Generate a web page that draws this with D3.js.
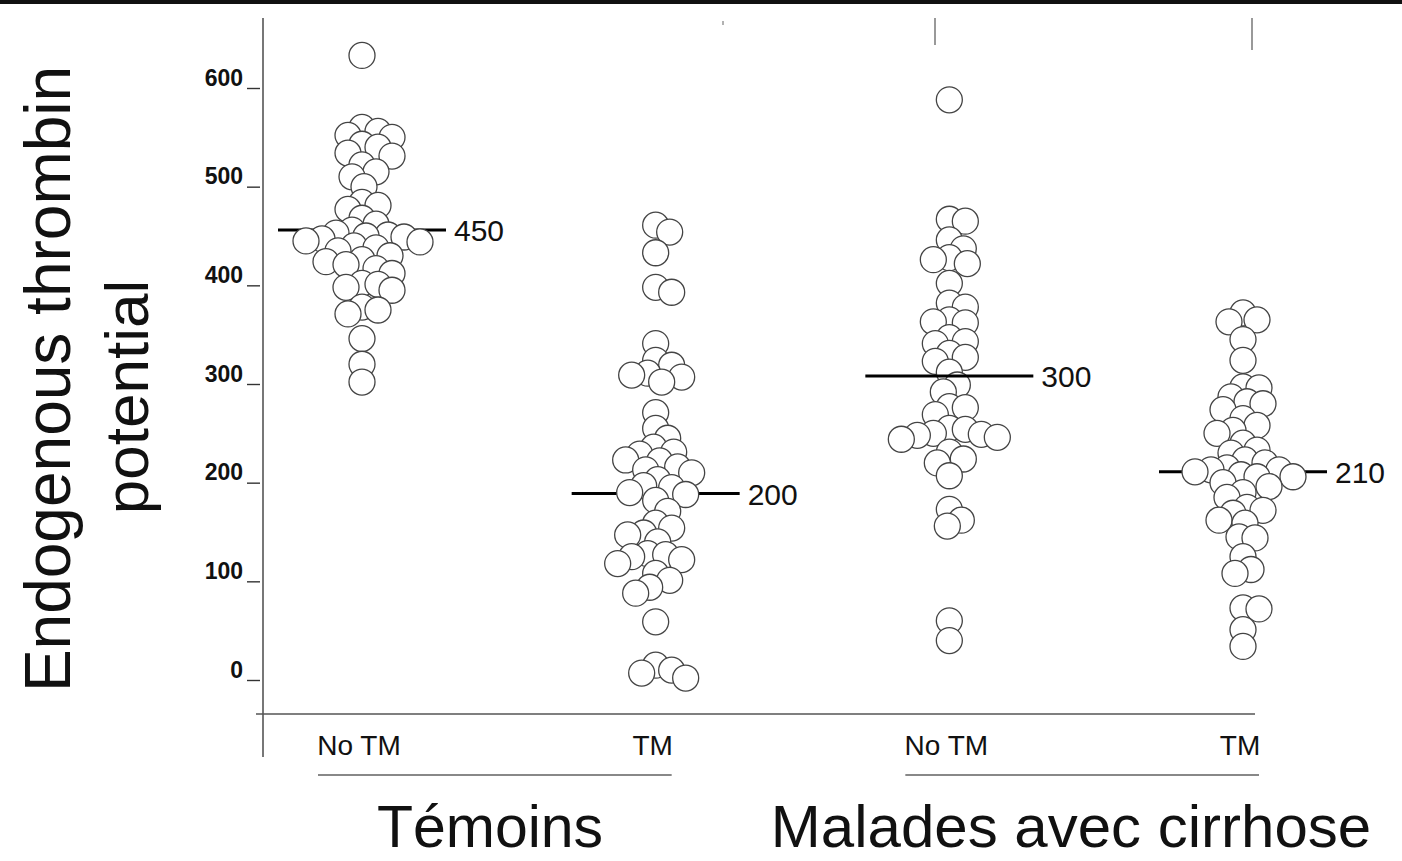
<!DOCTYPE html>
<html>
<head>
<meta charset="utf-8">
<script src="https://cdn.jsdelivr.net/npm/d3@7"></script>
<style>
  html, body { margin: 0; padding: 0; background: #fff; }
  svg { display: block; }
  text { font-family: "Liberation Sans", Arial, sans-serif; fill: #111; }
</style>
</head>
<body>
<div id="chart"></div>
<script>
// ---------------- DATA ----------------
const columnIds = ["temoins-notm", "temoins-tm", "cirrhose-notm", "cirrhose-tm"];
const columnLabels = ["No TM", "TM", "No TM", "TM"];
const groupLabels = ["Témoins", "Malades avec cirrhose"];
const yTicks = [0, 100, 200, 300, 400, 500, 600];

const temoinsNoTM = [633, 560, 556, 552, 550, 543, 540, 534, 531, 522, 515, 510, 500, 484, 481, 477, 468, 462, 456, 453, 451, 450, 449, 447, 445, 444, 440, 438, 435, 430, 426, 424, 421, 417, 412, 402, 401, 398, 395, 378, 375, 371, 346, 320, 302];
const temoinsTM = [461, 454, 433, 398, 393, 341, 324, 319, 311, 309, 307, 302, 271, 255, 245, 236, 231, 229, 223, 222, 216, 213, 210, 203, 197, 195, 190, 188, 182, 171, 159, 154, 149, 147, 140, 128, 127, 125, 122, 118, 108, 101, 94, 88, 59, 15, 10, 7, 2];
const cirrhoseNoTM = [588, 467, 465, 446, 437, 428, 426, 422, 402, 382, 378, 365, 363, 362, 347, 343, 341, 331, 327, 323, 312, 299, 292, 277, 276, 269, 255, 254, 250, 249, 248, 246, 244, 231, 224, 220, 207, 173, 162, 156, 60, 40];
const cirrhoseTM = [372, 365, 363, 345, 324, 297, 296, 287, 282, 280, 274, 265, 258, 253, 250, 240, 233, 230, 223, 220, 215, 213, 213, 211, 208, 206, 206, 200, 196, 190, 185, 175, 172, 169, 162, 159, 145, 144, 125, 112, 108, 73, 72, 51, 34];

// central line values (as drawn) and their printed labels
const centralValues = [456, 189, 308, 211];
const centralLabels = ["450", "200", "300", "210"];

// ---------------- LAYOUT ----------------
const W = 1402, H = 861;
const R = 13;            // circle radius
const MIN_DIST = 15;     // allowed centre distance in the swarm (circles overlap)
const LINE_HALF = 84;

const svg = d3.select("#chart").append("svg").attr("width", W).attr("height", H);

const x = d3.scalePoint().domain(columnIds).range([362, 1243]);
const y = d3.scaleLinear().domain([0, 600]).range([680, 88]);

const series = [temoinsNoTM, temoinsTM, cirrhoseNoTM, cirrhoseTM];

// top border & small top marks
svg.append("rect").attr("x", 0).attr("y", 0).attr("width", W).attr("height", 4).attr("fill", "#111");
svg.append("line").attr("x1", 935).attr("x2", 935).attr("y1", 18).attr("y2", 45).attr("stroke", "#777").attr("stroke-width", 1.5);
svg.append("line").attr("x1", 1252).attr("x2", 1252).attr("y1", 18).attr("y2", 50).attr("stroke", "#777").attr("stroke-width", 1.5);
svg.append("line").attr("x1", 723).attr("x2", 723).attr("y1", 21).attr("y2", 25).attr("stroke", "#999").attr("stroke-width", 1.5);

// y axis line
const axisX = 263;
svg.append("line").attr("x1", axisX).attr("x2", axisX).attr("y1", 18).attr("y2", 757)
  .attr("stroke", "#555").attr("stroke-width", 1.6);
// x axis line
svg.append("line").attr("x1", 256).attr("x2", 1255).attr("y1", 714).attr("y2", 714)
  .attr("stroke", "#555").attr("stroke-width", 1.6);

// y ticks via d3 axis
const yAxis = d3.axisLeft(y).tickValues(yTicks).tickSize(0).tickPadding(0);
const gy = svg.append("g").attr("transform", `translate(${axisX},0)`).call(yAxis);
gy.select(".domain").remove();
gy.selectAll(".tick").each(function() {
  const t = d3.select(this);
  t.append("line").attr("x1", -16).attr("x2", -3).attr("y1", 0).attr("y2", 0)
    .attr("stroke", "#333").attr("stroke-width", 1.4);
  t.select("text")
    .attr("x", -20).attr("y", -3).attr("dy", 0)
    .attr("text-anchor", "end")
    .style("font-family", '"Liberation Sans", Arial, sans-serif')
    .style("font-size", "23px").style("font-weight", "bold").attr("fill", "#222");
});

// beeswarm with overlap
function swarm(vals) {
  const placed = [];
  const sorted = vals.slice().sort((a, b) => b - a);
  const step = 2;
  for (const v of sorted) {
    const yy = y(v);
    let off = 0;
    for (let k = 0; k < 400; k++) {
      const cand = (k % 2 ? 1 : -1) * Math.ceil(k / 2) * step;
      if (placed.every(p => (p.dx - cand) ** 2 + (p.y - yy) ** 2 >= MIN_DIST * MIN_DIST)) { off = cand; break; }
    }
    placed.push({ v, dx: off, y: yy });
  }
  return placed;
}

const lineOnTop = [false, false, true, false];

series.forEach((vals, i) => {
  const cx = x(columnIds[i]);
  const g = svg.append("g");
  const drawLine = (sel) => sel.append("line")
    .attr("x1", cx - LINE_HALF).attr("x2", cx + LINE_HALF)
    .attr("y1", y(centralValues[i])).attr("y2", y(centralValues[i]))
    .attr("stroke", "#000").attr("stroke-width", 3);
  if (!lineOnTop[i]) drawLine(g);
  const pts = swarm(vals);
  g.selectAll("circle").data(pts).enter().append("circle")
    .attr("cx", d => cx + d.dx).attr("cy", d => d.y).attr("r", R)
    .attr("fill", "#fff").attr("stroke", "#444").attr("stroke-width", 1.3);
  if (lineOnTop[i]) drawLine(g);
  g.append("text")
    .attr("x", cx + LINE_HALF + 8).attr("y", y(centralValues[i]) + 11)
    .style("font-size", "30px").attr("fill", "#111")
    .text(centralLabels[i]);
});

// column labels
svg.selectAll(".collabel").data(columnIds).enter().append("text")
  .attr("class", "collabel")
  .attr("x", d => x(d) - 3).attr("y", 755)
  .attr("text-anchor", "middle")
  .style("font-size", "28px")
  .attr("fill", "#222")
  .text((d, i) => columnLabels[i]);

// group underlines
[[0, 1], [2, 3]].forEach(([a, b]) => {
  svg.append("line")
    .attr("x1", x(columnIds[a]) - 44).attr("x2", x(columnIds[b]) + 16)
    .attr("y1", 775).attr("y2", 775)
    .attr("stroke", "#888").attr("stroke-width", 2.2);
});

// group labels
svg.append("text").attr("x", 490).attr("y", 847).attr("text-anchor", "middle")
  .style("font-size", "59px").text(groupLabels[0]);
svg.append("text").attr("x", 1071).attr("y", 847).attr("text-anchor", "middle")
  .style("font-size", "60px").text(groupLabels[1]);

// y axis title
svg.append("text")
  .attr("transform", "translate(70,379) rotate(-90)")
  .attr("text-anchor", "middle")
  .style("font-size", "64px")
  .text("Endogenous thrombin");
svg.append("text")
  .attr("transform", "translate(148,397) rotate(-90)")
  .attr("text-anchor", "middle")
  .style("font-size", "62px")
  .text("potential");
</script>
</body>
</html>
